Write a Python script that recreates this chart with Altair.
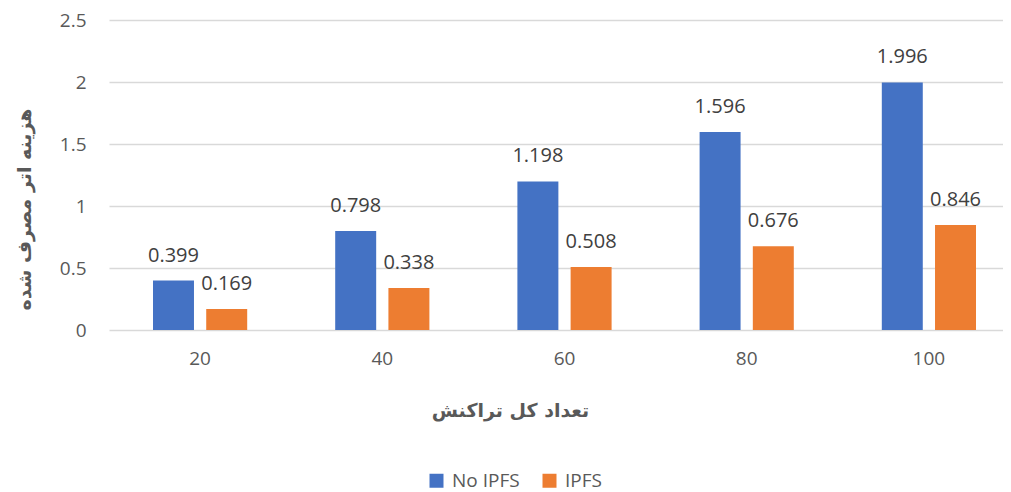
import altair as alt
import pandas as pd

categories = ["20", "40", "60", "80", "100"]
series_names = ["No IPFS", "IPFS"]
no_ipfs = [0.399, 0.798, 1.198, 1.596, 1.996]
ipfs = [0.169, 0.338, 0.508, 0.676, 0.846]
colors = ["#4472C4", "#ED7D31"]

rows = []
for c, a, b in zip(categories, no_ipfs, ipfs):
    rows.append({"cat": c, "series": series_names[0], "value": a, "label": str(a)})
    rows.append({"cat": c, "series": series_names[1], "value": b, "label": str(b)})
df = pd.DataFrame(rows)

font = "Open Sans"
title_font = "DejaVu Sans"
grey = "#595959"

x = alt.X("cat:N", sort=categories,
          scale=alt.Scale(paddingInner=0.483, paddingOuter=0.2415, range=[0, 911]),
          axis=alt.Axis(title="تعداد کل تراکنش", labelAngle=0, domain=False, ticks=False,
                        labelPadding=19, labelFontSize=19, labelColor=grey, labelFont=font,
                        titleFont=title_font, titleFontSize=19, titleFontWeight="bold",
                        titleColor=grey, titleX=401, titleY=80, titleAlign="center",
                        titleBaseline="middle", titleAnchor="start"))
xo = alt.XOffset("series:N", sort=series_names, scale=alt.Scale(paddingInner=0.23))
y = alt.Y("value:Q", scale=alt.Scale(domain=[0, 2.5]),
          axis=alt.Axis(title="هزینه اتر مصرف شده", values=[0, 0.5, 1, 1.5, 2, 2.5],
                        format="~g", domain=False, ticks=False, labelPadding=23,
                        labelFontSize=19, labelColor=grey, labelFont=font,
                        gridColor="#d9d9d9", gridWidth=1.5,
                        titleFont=title_font, titleFontSize=19, titleFontWeight="bold",
                        titleColor=grey, titleX=-85, titleY=189, titleAlign="center",
                        titleBaseline="middle", titleAnchor="start", titleAngle=270))

color = alt.Color("series:N", sort=series_names,
                  scale=alt.Scale(domain=series_names, range=colors),
                  legend=alt.Legend(title=None, orient="none", direction="horizontal",
                                    legendX=318, legendY=451, symbolType="square",
                                    symbolSize=196, symbolStrokeWidth=0, labelFontSize=19,
                                    labelColor=grey, labelFont=font, columnPadding=20,
                                    labelOffset=6))

base = alt.Chart(df).encode(x=x, xOffset=xo, y=y)
bars = base.mark_bar().encode(color=color)
labels = base.mark_text(baseline="alphabetic", dy=-19, fontSize=20, font=font,
                        color="#404040").encode(text="label:N")

chart = (bars + labels).properties(
    width=894, height=310,
    autosize=alt.AutoSizeParams(type="none"),
    padding={"left": 101, "top": 12, "right": 0, "bottom": 166},
    background="white",
).configure_view(stroke=None)
chart.save("out.html", embed_options={"renderer": "svg", "actions": False})
